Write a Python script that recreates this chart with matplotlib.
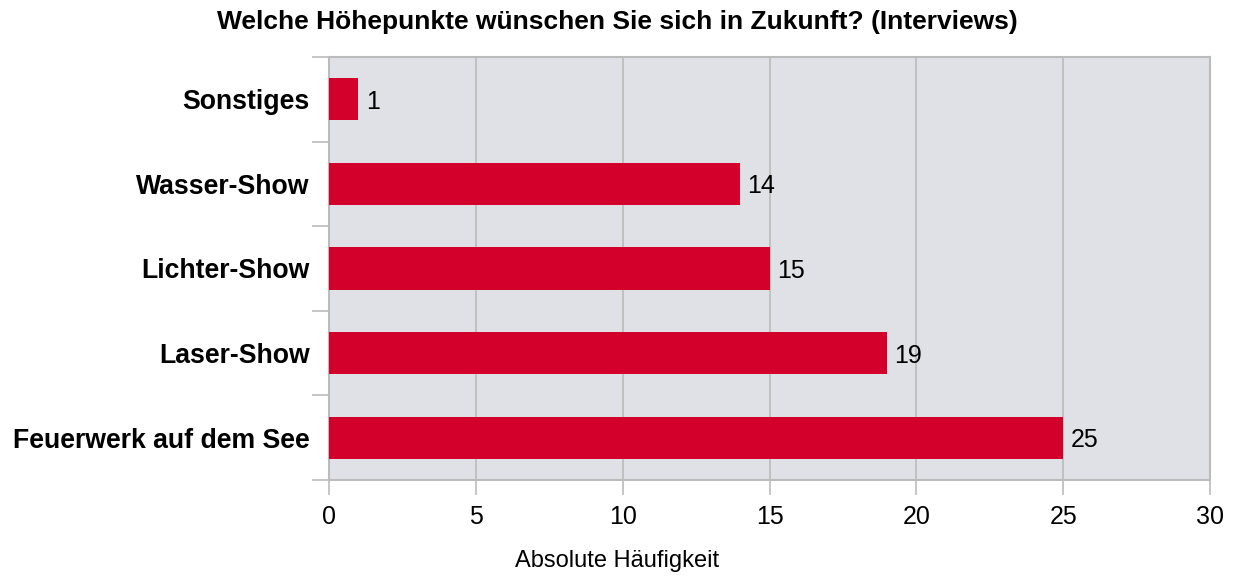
import matplotlib
matplotlib.use("Agg")
import matplotlib.pyplot as plt

categories = ["Feuerwerk auf dem See", "Laser-Show", "Lichter-Show", "Wasser-Show", "Sonstiges"]
values = [25, 19, 15, 14, 1]
xticks = [0, 5, 10, 15, 20, 25, 30]

plt.rcParams['font.family'] = ['Liberation Sans', 'DejaVu Sans']

fig = plt.figure(figsize=(12.34, 5.77), dpi=100)
ax = fig.add_axes([329/1234, 1-480/577, (1210-329)/1234, (480-57)/577])
ax.set_facecolor('#E0E1E6')

y = list(range(len(categories)))
bars = ax.barh(y, values, height=0.5, color='#D2002A', zorder=3)
for yi, v in zip(y, values):
    ax.text(v + 0.25, yi, str(v), va='center_baseline', ha='left', fontsize=18, zorder=4)

ax.set_xlim(0, 30)
ax.set_ylim(-0.5, len(categories) - 0.5)
ax.set_xticks(xticks)
ax.set_xticklabels([str(t) for t in xticks], fontsize=18)
ax.tick_params(axis='x', length=11, width=1.2, color='#BBBBBB', pad=7)
ax.xaxis.grid(True, color='#BBBBBB', linewidth=1.2, zorder=1)

ax.set_yticks(y)
ax.set_yticklabels(categories, fontsize=19.2, fontweight='bold')
ax.tick_params(axis='y', length=0, pad=14)
# category boundary ticks
ax.set_yticks([i - 0.5 for i in range(len(categories) + 1)], minor=True)
ax.tick_params(axis='y', which='minor', length=12, width=1.2, color='#BBBBBB')

for s in ['left', 'bottom', 'top', 'right']:
    ax.spines[s].set_color('#BBBBBB')
    ax.spines[s].set_linewidth(1.5)

fig.text(0.5, 1-561/577, 'Absolute Häufigkeit', ha='center', va='center', fontsize=17)
fig.text(0.5, 1-22/577, 'Welche Höhepunkte wünschen Sie sich in Zukunft? (Interviews)',
         ha='center', va='center', fontsize=19, fontweight='bold')

fig.savefig('out.png', dpi=100)
